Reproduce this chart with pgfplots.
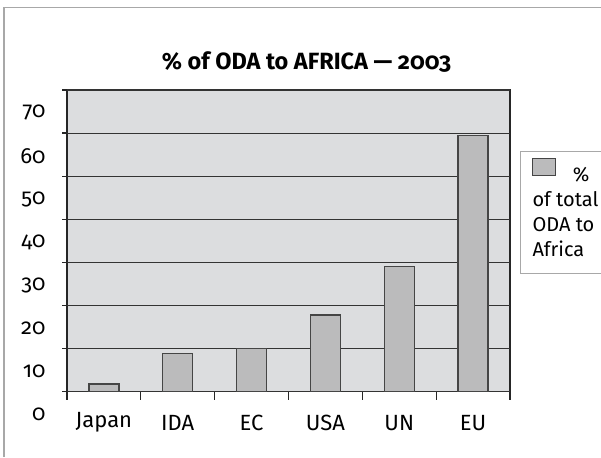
\documentclass[border=0pt]{standalone}
\usepackage{fontspec}
\setmainfont{Fira Sans}[Numbers=OldStyle]
\usepackage{pgfplots}
\pgfplotsset{compat=1.18}
\definecolor{plotbg}{HTML}{DCDDDF}
\definecolor{barfill}{HTML}{BBBBBC}
\definecolor{baredge}{HTML}{454545}
\definecolor{gridc}{HTML}{333333}
\definecolor{framec}{HTML}{A8A8A8}
\begin{document}
\begin{tikzpicture}[x=1pt,y=1pt]
\useasboundingbox (0,0) rectangle (601,457);
\draw[framec, line width=1.5pt] (4,0) -- (4,449.5) -- (601,449.5);
\begin{axis}[
  at={(67pt,65.3pt)}, anchor=south west,
  scale only axis, width=443pt, height=301.7pt,
  xmin=-0.5, xmax=5.5, ymin=0, ymax=70,
  axis background/.style={fill=plotbg},
  axis line style={draw=black!85, line width=1.2pt},
  ybar, bar width=30pt,
  tick align=outside, tick pos=left,
  major tick length=8pt,
  every tick/.style={draw=black!85, line width=1.2pt},
  xtick={-0.5,0.5,1.5,2.5,3.5,4.5,5.5}, xticklabels={},
  extra x ticks={0,1,2,3,4,5},
  extra x tick labels={Japan,IDA,EC,USA,UN,EU},
  extra x tick style={major tick length=0pt},
  ytick=\empty,
  extra y ticks={0,10,20,30,40,50,60,70},
  extra y tick style={grid=major, major tick length=5pt},
  major grid style={draw=gridc, line width=1.1pt},
  /pgf/number format/assume math mode=true,
  tick label style={font=\fontsize{22}{26}\selectfont},
  yticklabel style={anchor=east, yshift=-23pt, xshift=-13pt},
  xticklabel style={anchor=center, yshift=-31pt},
  title={\% of ODA to AFRICA — 2003},
  title style={font=\bfseries\fontsize{23.5}{27}\selectfont, at={(0.5406,1.073)}, anchor=center},
  legend cell align=left,
  legend style={at={(1.0226,0.798)}, anchor=north west, draw=framec, line width=1pt,
    inner xsep=12pt, inner ysep=12pt, row sep=2pt, column sep=0pt,
    font=\fontsize{20}{24}\selectfont,
    nodes={inner sep=0pt, text height=18pt, text depth=5pt}},
]
\addplot[fill=barfill, draw=baredge, line width=1.2pt, bar shift=0pt, forget plot] coordinates {(0,1.8) (1,8.8) (2,10) (3,17.8) (4,29) (5,59.4)};
\addlegendimage{legend image code/.code={\draw[overlay, fill=barfill, draw=baredge, line width=1pt] (0pt,-1pt) rectangle (23pt,16pt);}}
\addlegendentry{\makebox[57pt][r]{\%}}
\addlegendimage{empty legend}
\addlegendentry{of total}
\addlegendimage{empty legend}
\addlegendentry{ODA to}
\addlegendimage{empty legend}
\addlegendentry{Africa}
\end{axis}
\end{tikzpicture}
\end{document}
